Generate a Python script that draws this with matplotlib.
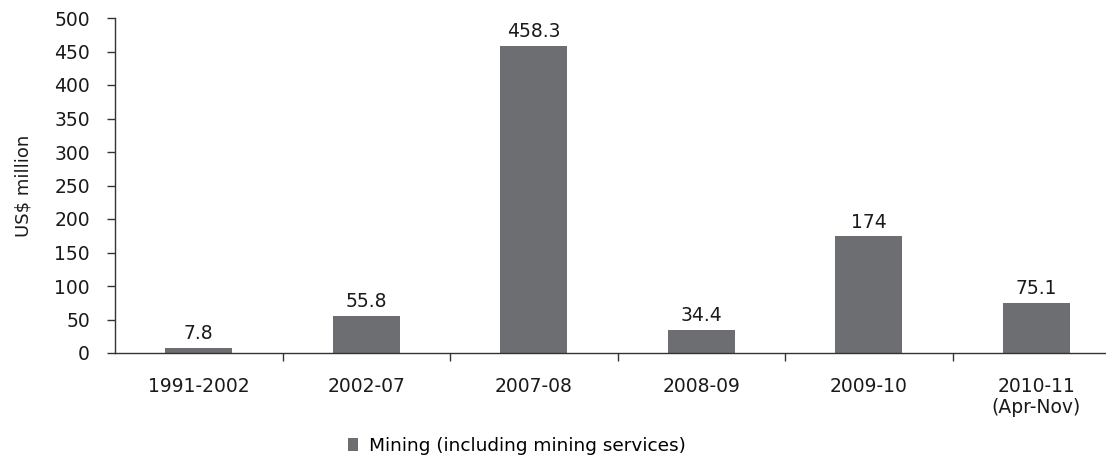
import numpy as np
import matplotlib.pyplot as plt
from matplotlib.patches import Patch

categories = ["1991-2002", "2002-07", "2007-08", "2008-09", "2009-10", "2010-11\n(Apr-Nov)"]
values = [7.8, 55.8, 458.3, 34.4, 174, 75.1]
labels = ["7.8", "55.8", "458.3", "34.4", "174", "75.1"]
series_name = "Mining (including mining services)"

bar_color = "#6d6e71"
axis_color = "#333333"
text_color = "#1a1a1a"

plt.rcParams["font.family"] = ["DejaVu Sans"]

fig = plt.figure(figsize=(11.06, 4.59), dpi=100)
# axis runs past right edge of the image, as in the original
ax = fig.add_axes([115 / 1106, 106 / 459, 1005 / 1106, 335 / 459])

x = np.arange(len(categories))
ax.bar(x, values, width=0.4, color=bar_color, zorder=2)

for xi, v, lab in zip(x, values, labels):
    ax.annotate(lab, (xi, v), xytext=(0, 3.5), textcoords="offset points",
                ha="center", va="bottom", fontsize=13.5, color=text_color)

ax.set_xlim(-0.5, len(categories) - 0.5)
ax.set_ylim(0, 500)
ax.set_yticks(np.arange(0, 501, 50))
ax.tick_params(axis="y", direction="out", length=6, width=1, color=axis_color,
               labelsize=13.5, labelcolor=text_color, pad=12)

ax.set_xticks(x)
ax.set_xticklabels(categories, fontsize=13.5, color=text_color, linespacing=1.15)
ax.tick_params(axis="x", which="major", length=0, pad=17)
ax.set_xticks(np.arange(0.5, len(categories) - 0.5, 1), minor=True)
ax.tick_params(axis="x", which="minor", direction="out", length=6, width=1, color=axis_color)

for s in ["top", "right"]:
    ax.spines[s].set_visible(False)
for s in ["left", "bottom"]:
    ax.spines[s].set_color(axis_color)
    ax.spines[s].set_linewidth(1)

ax.set_ylabel("US$ million", fontsize=13, color=text_color, labelpad=16)

handle = Patch(facecolor=bar_color, edgecolor="none")
fig.legend([handle], [series_name], loc="center", bbox_to_anchor=(517 / 1106, 1 - 446 / 459),
           frameon=False, fontsize=13.3, handlelength=0.55, handleheight=0.75, handletextpad=0.6,
           borderpad=0, borderaxespad=0)

fig.savefig("out.png", dpi=100)
